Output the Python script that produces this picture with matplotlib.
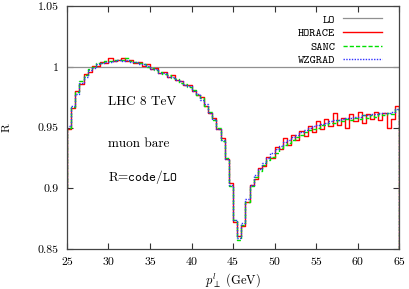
import matplotlib
matplotlib.use("Agg")
import matplotlib.pyplot as plt
import numpy as np

plt.rcParams["font.family"] = ["cmr10", "DejaVu Serif"]
plt.rcParams["mathtext.fontset"] = "cm"
plt.rcParams["axes.formatter.use_mathtext"] = True

# 0.5 GeV bins from 25 to 65 GeV
EDGES = np.linspace(25, 65, 81)
START = 0.90   # value where the histogram enters at the lower edge
END = 0.0      # histogram drops to zero past the last bin

HORACE = [0.949, 0.966, 0.980, 0.986, 0.994, 0.996, 1.001, 1.001, 1.004, 1.003,
          1.007, 1.005, 1.006, 1.007, 1.005, 1.006, 1.003, 1.004, 1.001, 1.002,
          0.998, 0.999, 0.995, 0.996, 0.992, 0.993, 0.989, 0.988, 0.985, 0.985,
          0.980, 0.977, 0.975, 0.968, 0.962, 0.958, 0.949, 0.941, 0.924, 0.904,
          0.872, 0.861, 0.869, 0.889, 0.903, 0.908, 0.917, 0.918, 0.926, 0.925,
          0.934, 0.932, 0.941, 0.936, 0.944, 0.940, 0.947, 0.943, 0.951, 0.946,
          0.955, 0.949, 0.957, 0.951, 0.962, 0.952, 0.958, 0.950, 0.961, 0.955,
          0.963, 0.954, 0.961, 0.957, 0.963, 0.956, 0.962, 0.950, 0.957, 0.968]
SANC = [0.950, 0.967, 0.979, 0.988, 0.993, 0.998, 1.000, 1.003, 1.003, 1.005,
        1.005, 1.006, 1.006, 1.006, 1.007, 1.005, 1.004, 1.003, 1.002, 1.000,
        0.999, 0.997, 0.996, 0.994, 0.993, 0.991, 0.990, 0.987, 0.986, 0.983,
        0.981, 0.977, 0.974, 0.968, 0.963, 0.956, 0.950, 0.939, 0.925, 0.902,
        0.874, 0.857, 0.870, 0.889, 0.902, 0.909, 0.914, 0.919, 0.923, 0.926,
        0.929, 0.933, 0.936, 0.937, 0.940, 0.942, 0.944, 0.946, 0.948, 0.949,
        0.950, 0.952, 0.952, 0.954, 0.954, 0.956, 0.955, 0.957, 0.956, 0.958,
        0.957, 0.960, 0.958, 0.960, 0.959, 0.961, 0.960, 0.962, 0.961, 0.965]
WZGRAD = [0.951, 0.968, 0.978, 0.987, 0.992, 0.997, 0.999, 1.002, 1.003, 1.004,
          1.004, 1.005, 1.006, 1.005, 1.006, 1.004, 1.004, 1.002, 1.002, 1.001,
          0.998, 0.998, 0.995, 0.995, 0.992, 0.992, 0.989, 0.988, 0.985, 0.984,
          0.980, 0.978, 0.973, 0.969, 0.962, 0.957, 0.949, 0.940, 0.924, 0.903,
          0.874, 0.859, 0.871, 0.891, 0.903, 0.911, 0.916, 0.921, 0.925, 0.929,
          0.932, 0.935, 0.938, 0.940, 0.942, 0.944, 0.946, 0.948, 0.950, 0.951,
          0.952, 0.953, 0.954, 0.955, 0.956, 0.956, 0.957, 0.958, 0.958, 0.959,
          0.959, 0.960, 0.960, 0.961, 0.961, 0.962, 0.962, 0.962, 0.963, 0.965]
LO = 1.0

XTICKS = [25, 30, 35, 40, 45, 50, 55, 60, 65]
YTICKS = [0.85, 0.9, 0.95, 1.0, 1.05]
YTICKLABELS = ["0.85", "0.9", "0.95", "1", "1.05"]

# (label, values, colour, linestyle)
SERIES = [("HORACE", HORACE, "#ff0000", "-"),
          ("SANC", SANC, "#00e000", (0, (3, 1.5))),
          ("WZGRAD", WZGRAD, "#3030ff", (0, (1, 1)))]


def hist_path(vals):
    xs = np.r_[EDGES[0], np.repeat(EDGES, 2)[1:-1], EDGES[-1]]
    ys = np.r_[START, np.repeat(vals, 2), END]
    return xs, ys


fig = plt.figure(figsize=(4.09, 2.89), dpi=100)
ax = fig.add_axes([0.1638, 0.1384, 0.8118, 0.8406])

ax.plot([EDGES[0], EDGES[-1]], [LO, LO], color="#909090", lw=0.9, label="LO")
for lab, vals, col, ls in SERIES:
    xs, ys = hist_path(vals)
    ax.plot(xs, ys, color=col, ls=ls, lw=1.0, label=lab)

ax.set_xlim(25, 65)
ax.set_ylim(0.85, 1.05)
ax.set_xticks(XTICKS)
ax.set_xticklabels([str(t) for t in XTICKS])
ax.set_yticks(YTICKS)
ax.set_yticklabels(YTICKLABELS)
ax.tick_params(direction="in", top=True, right=True, length=4, width=0.8,
               labelsize=8.5, pad=6, color="#333333")
for s in ax.spines.values():
    s.set_color("#444444"); s.set_linewidth(0.9)

ax.set_xlabel(r"$p_{\perp}^{l}$ (GeV)", fontsize=9, labelpad=3)
fig.text(0.017, 0.56, "R", rotation=90, fontsize=8.5, ha="center", va="center")

ax.text(30, 0.9685, "LHC 8 TeV", fontsize=9.5)
ax.text(30, 0.934, "muon bare", fontsize=9.5)
ax.text(30, 0.906, r"R=$\mathtt{code/LO}$", fontsize=9.5)

ax.legend(loc="upper right", frameon=False, markerfirst=False,
          prop={"family": "cmtt10", "size": 8.5}, handlelength=3.3,
          handletextpad=0.7, labelspacing=0.2, borderaxespad=0.3,
          bbox_to_anchor=(0.975, 1.0))

fig.savefig("out.png", dpi=100, facecolor="white")
